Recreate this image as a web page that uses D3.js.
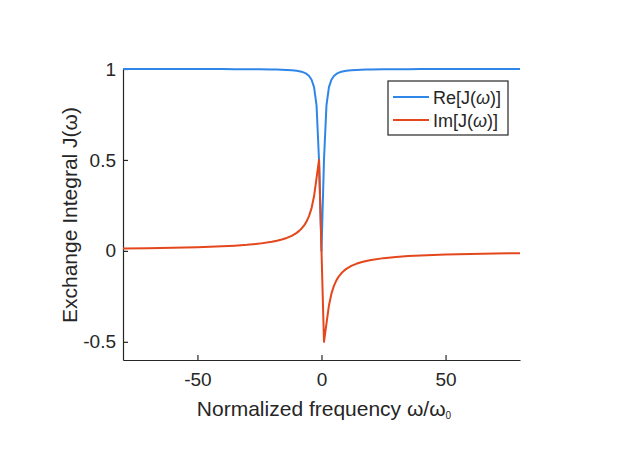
<!DOCTYPE html>
<html>
<head>
<meta charset="utf-8">
<script src="https://cdn.jsdelivr.net/npm/d3@7"></script>
<style>
  body { margin: 0; background: #fff; }
  text { font-family: "Liberation Sans", Arial, sans-serif; fill: #262626; }
</style>
</head>
<body>
<svg id="chart" width="623" height="467"></svg>
<script>
// values
const freq = [-80, -70, -60, -50, -45, -40, -35, -30, -25, -20, -18, -16, -14, -12, -10, -9, -8, -7, -6, -5, -4, -3, -2, -1,
    0, 1, 2, 3, 4, 5, 6, 7, 8, 9, 10, 12, 14, 16, 18, 20, 25, 30, 35, 40, 45, 50, 60, 70, 80];

const reJ = [0.9998, 0.9998, 0.9997, 0.9996, 0.9995, 0.9994, 0.9992, 0.9989, 0.9984, 0.9975, 0.9969, 0.9961, 0.9949, 0.9931, 0.9901, 0.9878, 0.9846, 0.98, 0.973, 0.9615, 0.9412, 0.9, 0.8, 0.5,
    0, 0.5, 0.8, 0.9, 0.9412, 0.9615, 0.973, 0.98, 0.9846, 0.9878, 0.9901, 0.9931, 0.9949, 0.9961, 0.9969, 0.9975, 0.9984, 0.9989, 0.9992, 0.9994, 0.9995, 0.9996, 0.9997, 0.9998, 0.9998];

const imJ = [0.0125, 0.0143, 0.0167, 0.02, 0.0222, 0.025, 0.0285, 0.0333, 0.0399, 0.0499, 0.0554, 0.0623, 0.0711, 0.0828, 0.099, 0.1098, 0.1231, 0.14, 0.1622, 0.1923, 0.2353, 0.3, 0.4, 0.5,
    0, -0.5, -0.4, -0.3, -0.2353, -0.1923, -0.1622, -0.14, -0.1231, -0.1098, -0.099, -0.0828, -0.0711, -0.0623, -0.0554, -0.0499, -0.0399, -0.0333, -0.0285, -0.025, -0.0222, -0.02, -0.0167, -0.0143, -0.0125];

const xTicks = [-50, 0, 50];
const yTicks = [-0.5, 0, 0.5, 1];
const seriesNames = ['Re', 'Im'];
const seriesColors = ['#2f86e8', '#e4471c'];

const svg = d3.select('#chart');
const plotLeft = 123, plotRight = 520, plotTop = 69, plotBottom = 360;

const x = d3.scaleLinear().domain([-80, 80]).range([plotLeft, plotRight]);
const y = d3.scaleLinear().domain([-0.6, 1]).range([plotBottom, plotTop]);

// axes, MATLAB style: inward ticks, no box
const xAxis = svg.append('g')
    .attr('transform', `translate(0,${plotBottom})`)
    .call(d3.axisBottom(x).tickValues(xTicks).tickSizeInner(-5).tickSizeOuter(0).tickPadding(13).tickFormat(d => String(d)));
const yAxis = svg.append('g')
    .attr('transform', `translate(${plotLeft},0)`)
    .call(d3.axisLeft(y).tickValues(yTicks).tickSizeInner(-5).tickSizeOuter(0).tickPadding(7).tickFormat(d => String(d)));

[xAxis, yAxis].forEach(a => {
    a.attr('font-size', null).attr('font-family', null);
    a.select('.domain').attr('stroke', '#262626').attr('stroke-width', 1.2);
    a.selectAll('.tick line').attr('stroke', '#262626').attr('stroke-width', 1.2);
    a.selectAll('.tick text').style('font-size', '19px').attr('fill', '#262626');
});

// curves
const line = d3.line()
    .x((d, i) => x(freq[i]))
    .y(d => y(d));

[reJ, imJ].forEach((vals, k) => {
    svg.append('path')
        .datum(vals)
        .attr('d', line)
        .attr('fill', 'none')
        .attr('stroke', seriesColors[k])
        .attr('stroke-width', 2)
        .attr('stroke-linejoin', 'round');
});

// axis labels
svg.append('text')
    .attr('x', 324)
    .attr('y', 416)
    .attr('text-anchor', 'middle')
    .style('font-size', '21px')
    .html('Normalized frequency \u03c9/\u03c9<tspan font-size="10" dy="3">0</tspan>');

svg.append('text')
    .attr('transform', 'translate(77,215) rotate(-90)')
    .attr('text-anchor', 'middle')
    .style('font-size', '21px')
    .text('Exchange Integral J(\u03c9)');

// legend
const legend = svg.append('g').attr('transform', 'translate(388,81)');
legend.append('rect')
    .attr('width', 120)
    .attr('height', 54)
    .attr('fill', '#fff')
    .attr('stroke', '#262626')
    .attr('stroke-width', 1.2);

seriesNames.forEach((name, k) => {
    const row = legend.append('g').attr('transform', `translate(0,${16 + k * 23})`);
    row.append('line')
        .attr('x1', 5).attr('x2', 41)
        .attr('stroke', seriesColors[k])
        .attr('stroke-width', 2);
    row.append('text')
        .attr('x', 45)
        .attr('y', 6.5)
        .style('font-size', '18px')
        .html(`${name}[J(<tspan font-style="italic">\u03c9</tspan>)]`);
});
</script>
</body>
</html>
